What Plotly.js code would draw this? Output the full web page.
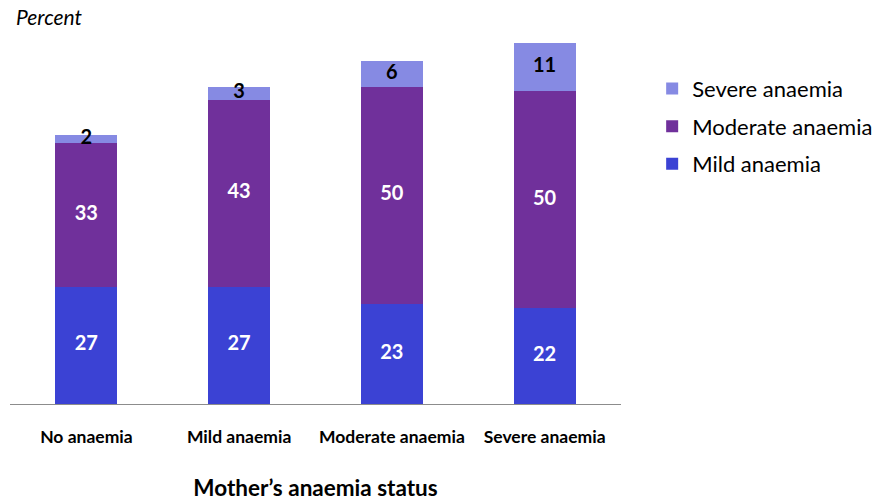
<!DOCTYPE html>
<html><head><meta charset="utf-8">
<script src="https://cdn.plot.ly/plotly-3.0.1.min.js"></script>
<style>body{margin:0;background:#fff}#c{width:880px;height:501px}</style>
</head><body><div id="c"></div>
<script>
const categories = ["No anaemia", "Mild anaemia", "Moderate anaemia", "Severe anaemia"];
const mild = [27, 27, 23, 22];
const moderate = [33, 43, 50, 50];
const severe = [2, 3, 6, 11];

const FONT = "Lato, 'Open Sans', 'Liberation Sans', sans-serif";
const cMild = "#3B42D4", cMod = "#70309B", cSev = "#868AE3";

function bar(name, vals, color, rank) {
  return {type: "bar", name: name, x: categories, y: vals, marker: {color: color},
          legendgroup: name, legendrank: rank, hoverinfo: "skip"};
}
function labels(vals, base, color) {
  return {type: "scatter", mode: "text", x: categories,
          y: vals.map((v, i) => base[i] + v / 2), text: vals.map(String),
          textfont: {family: FONT, size: 20, color: color, weight: "bold"},
          showlegend: false, hoverinfo: "skip", cliponaxis: false};
}
const zero = mild.map(() => 0);
const base2 = mild.slice();
const base3 = mild.map((v, i) => v + moderate[i]);

const data = [
  bar("Mild anaemia", mild, cMild, 3),
  bar("Moderate anaemia", moderate, cMod, 2),
  bar("Severe anaemia", severe, cSev, 1),
  labels(mild, zero, "#ffffff"),
  labels(moderate, base2, "#ffffff"),
  labels(severe, base3, "#000000")
];

const layout = {
  width: 880, height: 501,
  margin: {l: 10, r: 259, t: 13, b: 97, autoexpand: false},
  barmode: "stack", bargap: 0.594,
  paper_bgcolor: "#fff", plot_bgcolor: "#fff",
  font: {family: FONT, color: "#000"},
  showlegend: true,
  legend: {x: 1.051, y: 0.86, xanchor: "left", yanchor: "top",
           traceorder: "grouped", tracegroupgap: 6,
           font: {family: FONT, size: 22, color: "#000"}, itemwidth: 30},
  xaxis: {type: "category", range: [-0.5, 3.5], showline: true, linecolor: "#8c8c8c", linewidth: 1,
          ticks: "", showgrid: false, zeroline: false, ticklabelstandoff: 17, automargin: false,
          tickfont: {family: FONT, size: 17.5, color: "#000", weight: "bold"},
          title: {text: "Mother\u2019s anaemia status", standoff: 38,
                  font: {family: FONT, size: 22.5, color: "#000", weight: "bold"}}},
  yaxis: {range: [0, 90], visible: false, showgrid: false, zeroline: false, automargin: false},
  annotations: [{text: "<i>Percent</i>", xref: "paper", yref: "paper", x: 0.006, y: 0.992,
                 xanchor: "left", yanchor: "middle", showarrow: false,
                 font: {family: FONT, size: 21, color: "#000"}}]
};
Plotly.newPlot("c", data, layout, {displayModeBar: false, staticPlot: true});
</script></body></html>
